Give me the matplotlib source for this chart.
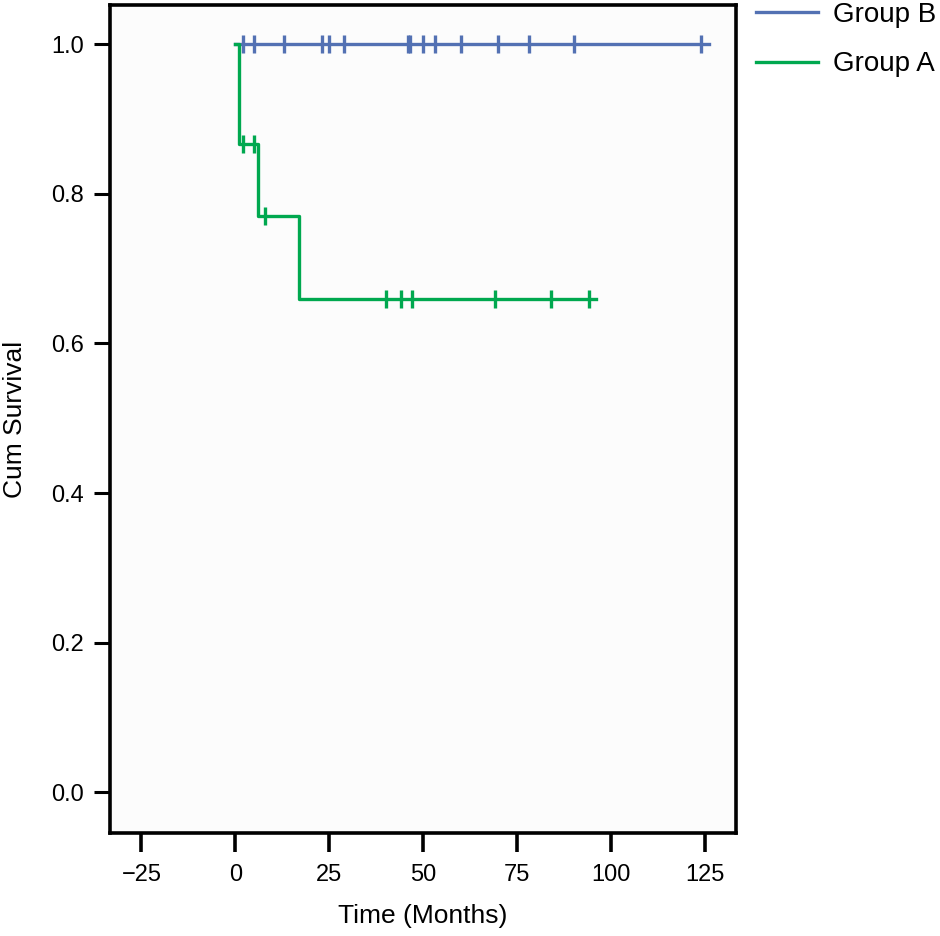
import matplotlib
matplotlib.use('Agg')
import matplotlib.pyplot as plt

plt.rcParams['font.family'] = ['Liberation Sans', 'DejaVu Sans']

# Group B: no events, censored times
b_times = [0, 126]
b_surv = [1.0, 1.0]
b_cens = [2, 5, 13, 23, 25, 29, 46, 46.5, 50, 53, 60, 70, 78, 90, 124]

# Group A: step curve
a_times = [0, 1, 6, 17, 96]
a_surv = [1.0, 0.866, 0.770, 0.660, 0.660]
a_cens = [2, 5, 8, 40, 44, 47, 69, 84, 94]

blue = '#5371b3'
green = '#00a84f'

def surv_at(t, times, surv):
    s = surv[0]
    for ti, si in zip(times, surv):
        if ti <= t:
            s = si
    return s

fig = plt.figure(figsize=(9.4, 9.36), dpi=100)
ax = fig.add_axes([0.1165, 0.110, 0.6665, 0.8847])
ax.set_facecolor('#fcfcfc')

lw = 2.4
ax.plot(b_times, b_surv, drawstyle='steps-post', color=blue, lw=lw, label='Group B')
ax.plot(b_cens, [surv_at(t, b_times, b_surv) for t in b_cens], ls='none',
        marker='|', ms=13.5, mew=2.4, color=blue)
ax.plot(a_times, a_surv, drawstyle='steps-post', color=green, lw=lw, label='Group A')
ax.plot(a_cens, [surv_at(t, a_times, a_surv) for t in a_cens], ls='none',
        marker='|', ms=13.5, mew=2.4, color=green)

ax.set_xlim(-33.5, 133.2)
ax.set_ylim(-0.0544, 1.0525)
ax.set_xticks([-25, 0, 25, 50, 75, 100, 125])
ax.set_yticks([0.0, 0.2, 0.4, 0.6, 0.8, 1.0])
ax.set_xticklabels(['\u221225', '0', '25', '50', '75', '100', '125'])
ax.set_yticklabels(['0.0', '0.2', '0.4', '0.6', '0.8', '1.0'])

for s in ax.spines.values():
    s.set_linewidth(2.6)
ax.tick_params(axis='x', length=14, width=2.6, pad=8, labelsize=17)
ax.tick_params(axis='y', length=11.5, width=2.2, pad=7, labelsize=17)

ax.set_xlabel('Time (Months)', fontsize=19, labelpad=13)
ax.set_ylabel('Cum Survival', fontsize=19, labelpad=17)

fig.legend(loc='upper left', bbox_to_anchor=(756 / 940, 0.998), frameon=False,
           fontsize=20, handlelength=2.23, handletextpad=0.55, labelspacing=0.85,
           borderpad=0, borderaxespad=0)

fig.savefig('out.png', dpi=100)
